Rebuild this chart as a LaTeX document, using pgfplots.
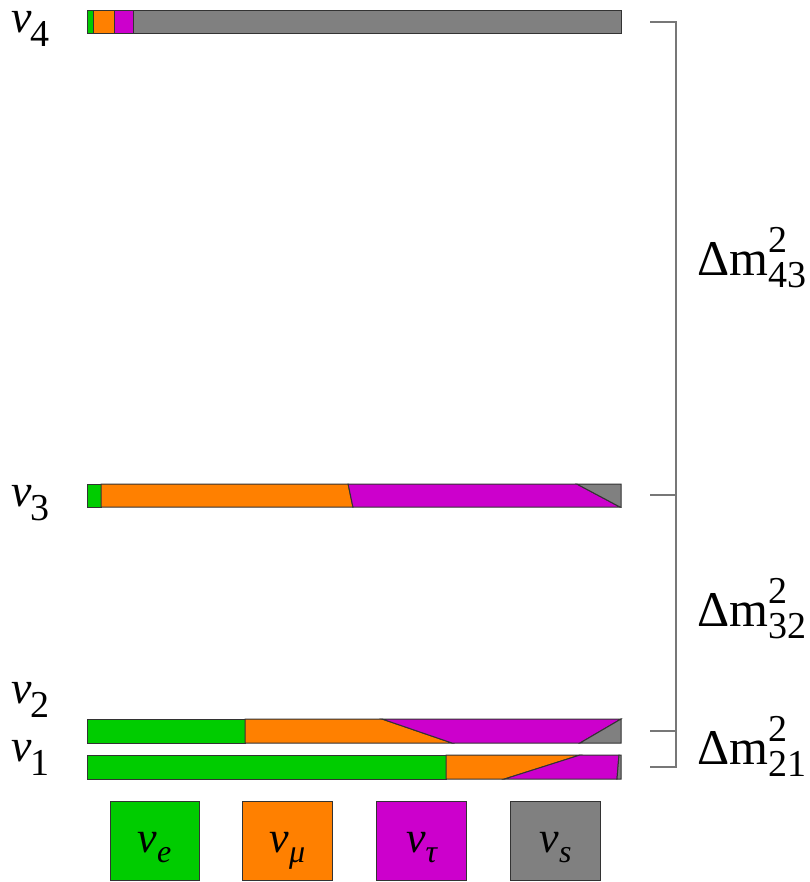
\documentclass[border=0pt]{standalone}
\usepackage{pgfplots}
\pgfplotsset{compat=1.18}
\usepackage{fontspec}
\setmainfont{Liberation Serif}

\definecolor{nue}{HTML}{00CC00}
\definecolor{numu}{HTML}{FF8000}
\definecolor{nutau}{HTML}{CC00CC}
\definecolor{nus}{HTML}{808080}
\definecolor{edge}{HTML}{333333}
\definecolor{bracket}{HTML}{777777}

% mass-state label: italic nu with a lowered digit
\newcommand{\mstate}[1]{\textit{ν}\kern-1pt\raisebox{-7pt}{\fontsize{19}{19}\selectfont #1}}
% flavour label
\newcommand{\flav}[1]{\textit{ν}\raisebox{-5pt}{\fontsize{16}{16}\selectfont\itshape #1}}
% splitting label: Delta m squared with stacked indices
\newcommand{\dmsq}[1]{Δm\rlap{\raisebox{11.5pt}{\fontsize{19}{19}\selectfont 2}}\raisebox{-6pt}{\fontsize{19}{19}\selectfont #1}}

\begin{document}
\begin{tikzpicture}
\begin{axis}[
  hide axis, scale only axis,
  width=404.5pt, height=441pt,
  xmin=-0.16510, xmax=1.35272,
  ymin=0, ymax=882, y dir=reverse,
  clip=false,
  seg/.style={draw=edge, line width=0.5pt, fill=#1},
]
% keep the full canvas in the bounding box
\addplot[draw=none, forget plot] coordinates {(-0.16510,0) (1.35272,882)};

% nu_4: mostly sterile
\addplot[seg=nue]   coordinates {(0,11) (0.0094,11) (0.0094,34) (0,34)} --cycle;
\addplot[seg=numu]  coordinates {(0.0094,11) (0.049,11) (0.049,34) (0.0094,34)} --cycle;
\addplot[seg=nutau] coordinates {(0.049,11) (0.0863,11) (0.0863,34) (0.049,34)} --cycle;
\addplot[seg=nus]   coordinates {(0.0863,11) (1,11) (1,34) (0.0863,34)} --cycle;

% nu_3 (top edge: delta = 0, bottom edge: delta = pi)
\addplot[seg=nue]   coordinates {(0,484) (0.0244,484) (0.0244,507) (0,507)} --cycle;
\addplot[seg=numu]  coordinates {(0.0244,484) (0.488,484) (0.497,507) (0.0244,507)} --cycle;
\addplot[seg=nutau] coordinates {(0.488,484) (0.917,484) (0.998,507) (0.497,507)} --cycle;
\addplot[seg=nus]   coordinates {(0.917,484) (1,484) (1,507) (0.998,507)} --cycle;

% nu_2
\addplot[seg=nue]   coordinates {(0,719) (0.2946,719) (0.2946,743) (0,743)} --cycle;
\addplot[seg=numu]  coordinates {(0.2946,719) (0.5516,719) (0.6829,743) (0.2946,743)} --cycle;
\addplot[seg=nutau] coordinates {(0.5516,719) (1,719) (0.9231,743) (0.6829,743)} --cycle;
\addplot[seg=nus]   coordinates {(1,719) (1,743) (0.9231,743)} --cycle;

% nu_1
\addplot[seg=nue]   coordinates {(0,755) (0.6717,755) (0.6717,779) (0,779)} --cycle;
\addplot[seg=numu]  coordinates {(0.6717,755) (0.9231,755) (0.7814,779) (0.6717,779)} --cycle;
\addplot[seg=nutau] coordinates {(0.9231,755) (0.9962,755) (0.9925,779) (0.7814,779)} --cycle;
\addplot[seg=nus]   coordinates {(0.9962,755) (1,755) (1,779) (0.9925,779)} --cycle;

% splitting brackets
\addplot[bracket, line width=0.8pt] coordinates {(1.0544,22) (1.1032,22) (1.1032,767) (1.0544,767)};
\addplot[bracket, line width=0.8pt] coordinates {(1.0544,495) (1.1032,495)};
\addplot[bracket, line width=0.8pt] coordinates {(1.0544,731) (1.1032,731)};

% flavour key
\addplot[seg=nue]   coordinates {(0.0413,801) (0.2083,801) (0.2083,880) (0.0413,880)} --cycle;
\addplot[seg=numu]  coordinates {(0.2908,801) (0.4578,801) (0.4578,880) (0.2908,880)} --cycle;
\addplot[seg=nutau] coordinates {(0.5422,801) (0.7092,801) (0.7092,880) (0.5422,880)} --cycle;
\addplot[seg=nus]   coordinates {(0.7936,801) (0.9606,801) (0.9606,880) (0.7936,880)} --cycle;

\begin{scope}[every node/.style={font=\fontsize{22}{22}\selectfont, inner sep=0pt}]
\node[anchor=base] at (axis cs:0.1248,852) {\flav{e}};
\node[anchor=base] at (axis cs:0.3743,852) {\flav{μ}};
\node[anchor=base] at (axis cs:0.6257,852) {\flav{τ}};
\node[anchor=base] at (axis cs:0.8771,852) {\flav{s}};
\end{scope}

\begin{scope}[every node/.style={font=\fontsize{23}{23}\selectfont, inner sep=0pt}]
\node[anchor=base west] at (axis cs:-0.144,33)  {\mstate{4}};
\node[anchor=base west] at (axis cs:-0.144,506) {\mstate{3}};
\node[anchor=base west] at (axis cs:-0.144,703) {\mstate{2}};
\node[anchor=base west] at (axis cs:-0.144,761) {\mstate{1}};
\end{scope}

\begin{scope}[every node/.style={font=\fontsize{25}{25}\selectfont, inner sep=0pt}]
\node[anchor=base west] at (axis cs:1.1426,275) {\dmsq{43}};
\node[anchor=base west] at (axis cs:1.1426,626) {\dmsq{32}};
\node[anchor=base west] at (axis cs:1.1426,764) {\dmsq{21}};
\end{scope}
\end{axis}
\end{tikzpicture}
\end{document}
